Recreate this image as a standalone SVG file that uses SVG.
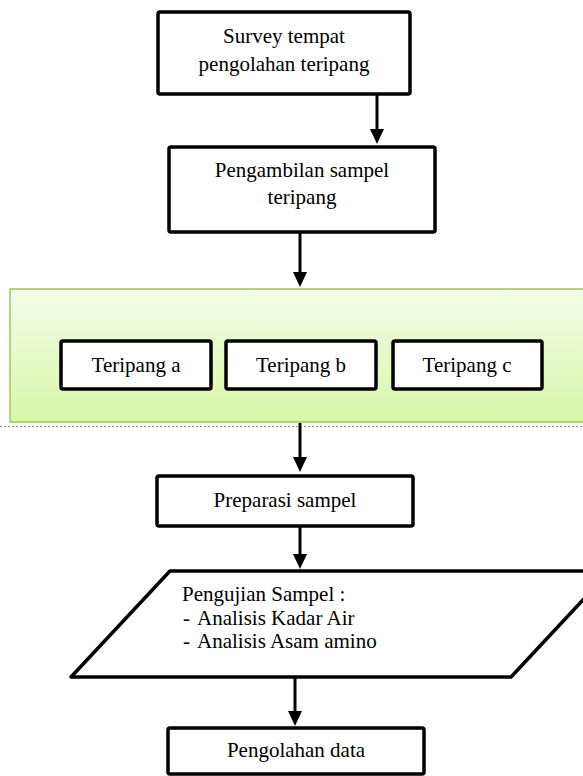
<svg xmlns="http://www.w3.org/2000/svg" width="583" height="776" viewBox="0 0 583 776">
<defs>
<linearGradient id="g" x1="0" y1="0" x2="0" y2="1">
<stop offset="0" stop-color="#f5fbea"/>
<stop offset="1" stop-color="#d8f7a6"/>
</linearGradient>
<style>
.box{fill:#fff;stroke:#000;stroke-width:3.5;stroke-linejoin:round}
.t{font-family:"Liberation Serif","Times New Roman",serif;font-size:21px;fill:#000}
.c{text-anchor:middle}
.ln{stroke:#000;stroke-width:3;fill:none}
.hd{fill:#000}
</style>
</defs>
<rect x="10" y="289" width="590" height="133" fill="url(#g)" stroke="#a2c45c" stroke-width="1.5"/>
<line x1="0" y1="426.5" x2="583" y2="426.5" stroke="#777" stroke-width="1" stroke-dasharray="1.5 2.5"/>
<g id="connectors">
<path class="ln" d="M377,94 V129"/><path class="hd" d="M370,129 L384,129 L377,144 Z"/>
<path class="ln" d="M300,232 V272"/><path class="hd" d="M293,272 L307,272 L300,287 Z"/>
<path class="ln" d="M300,423 V457"/><path class="hd" d="M293,457 L307,457 L300,472 Z"/>
<path class="ln" d="M300,526 V554"/><path class="hd" d="M293,554 L307,554 L300,569 Z"/>
<path class="ln" d="M295,677 V711"/><path class="hd" d="M288,711 L302,711 L295,726 Z"/>
</g>
<g id="survey">
<rect class="box" x="158" y="12" width="252" height="82" rx="2"/>
<text class="t c" x="284" y="43">Survey tempat</text>
<text class="t c" x="284" y="71">pengolahan teripang</text>
</g>
<g id="pengambilan">
<rect class="box" x="169" y="147" width="266" height="85" rx="2"/>
<text class="t c" x="302" y="177">Pengambilan sampel</text>
<text class="t c" x="302" y="204">teripang</text>
</g>
<g id="teripang-a">
<rect class="box" x="61" y="341" width="150" height="48" rx="2"/>
<text class="t c" x="136" y="372">Teripang a</text>
</g>
<g id="teripang-b">
<rect class="box" x="226" y="341" width="150" height="48" rx="2"/>
<text class="t c" x="301" y="372">Teripang b</text>
</g>
<g id="teripang-c">
<rect class="box" x="393" y="341" width="149" height="48" rx="2"/>
<text class="t c" x="467" y="372">Teripang c</text>
</g>
<g id="preparasi">
<rect class="box" x="157" y="476" width="256" height="50" rx="2"/>
<text class="t c" x="285" y="507">Preparasi sampel</text>
</g>
<g id="pengujian">
<polygon class="box" points="170,571 610,571 511,677 71,677"/>
<text class="t" x="182" y="601">Pengujian Sampel :</text>
<text class="t" x="183" y="625">-</text><text class="t" x="197" y="625">Analisis Kadar Air</text>
<text class="t" x="183" y="648">-</text><text class="t" x="197" y="648">Analisis Asam amino</text>
</g>
<g id="pengolahan">
<rect class="box" x="168" y="728" width="256" height="46" rx="2"/>
<text class="t c" x="296" y="757">Pengolahan data</text>
</g>
</svg>
